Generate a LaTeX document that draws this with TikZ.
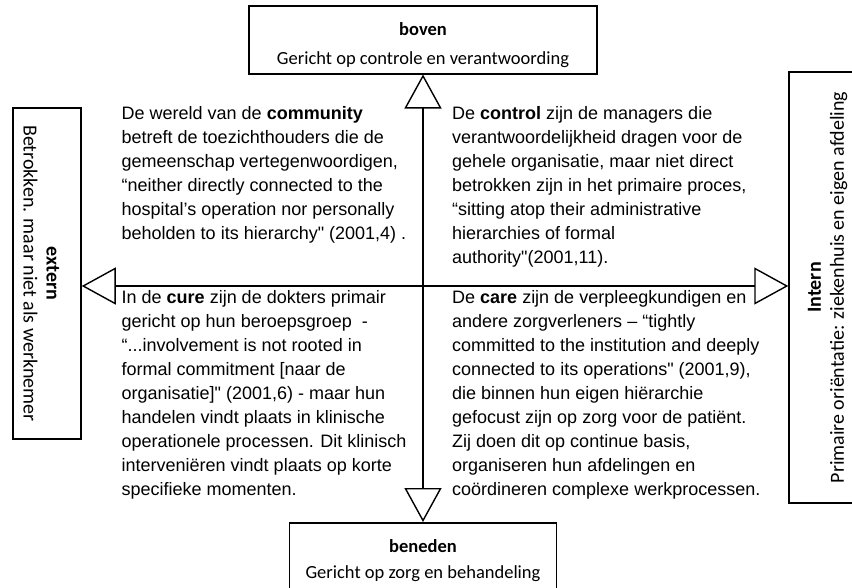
\documentclass[tikz,border=0pt]{standalone}
\usepackage{fontspec}
\setmainfont{Liberation Sans}
\newfontfamily\boxfont{Carlito}
\usetikzlibrary{arrows.meta,positioning}
\newcommand\qd{\textquotedbl}
\tikzset{
  dimbox/.style={rectangle, draw=black, line width=1.5pt, align=center, inner sep=0pt, font=\boxfont\fontsize{18.5}{26}\selectfont},
  sidebox/.style={dimbox, font=\boxfont\fontsize{20}{23}\selectfont},
  quadtext/.style={align=left, inner sep=0pt, anchor=north west, font=\fontsize{18}{24}\selectfont},
  axis/.style={{Triangle[open,length=34pt,width=37pt]}-{Triangle[open,length=34pt,width=37pt]}, line width=1.4pt}
}

\begin{document}
\begin{tikzpicture}[x=1pt, y=-1pt]
  \useasboundingbox (0,0) rectangle (852,587);
  \node[dimbox, minimum width=348pt, minimum height=68pt, anchor=north] (boven) at (423,5) {\rule{0pt}{23pt}\textbf{boven}\\[3pt]Gericht op controle en verantwoording};
  \node[dimbox, minimum width=267pt, minimum height=75pt, anchor=north] (beneden) at (423,522) {\textbf{beneden}\\Gericht op zorg en behandeling};
  \node[sidebox, rotate=-90, minimum width=331pt, minimum height=68pt] (extern) at (47,273.5) {\rule{0pt}{24pt}\textbf{extern}\\Betrokken. maar niet als werknemer};
  \node[sidebox, rotate=90, minimum width=431pt, minimum height=77pt] (intern) at (827.5,287.5) {\textbf{Intern}\\Primaire oriëntatie: ziekenhuis en eigen afdeling};
  \coordinate (hub) at (423,286);

  \node[quadtext] (community) at (121.5,106.5) {De wereld van de \textbf{community}\\betreft de toezichthouders die de\\gemeenschap vertegenwoordigen,\\“neither directly connected to the\\hospital’s operation nor personally\\beholden to its hierarchy\qd{} (2001,4) .};
  \node[quadtext] (control) at (452,106.5) {De \textbf{control} zijn de managers die\\verantwoordelijkheid dragen voor de\\gehele organisatie, maar niet direct\\betrokken zijn in het primaire proces,\\“sitting atop their administrative\\hierarchies of formal\\authority\qd(2001,11).};
  \node[quadtext] (cure) at (121.5,290.5) {In de \textbf{cure} zijn de dokters primair\\gericht op hun beroepsgroep\ \ -\\“...involvement is not rooted in\\formal commitment [naar de\\organisatie]\qd{} (2001,6) - maar hun\\handelen vindt plaats in klinische\\operationele processen. Dit klinisch\\interveniëren vindt plaats op korte\\specifieke momenten.};
  \node[quadtext] (care) at (452,290.5) {De \textbf{care} zijn de verpleegkundigen en\\andere zorgverleners – “tightly\\committed to the institution and deeply\\connected to its operations\qd{} (2001,9),\\die binnen hun eigen hiërarchie\\gefocust zijn op zorg voor de patiënt.\\Zij doen dit op continue basis,\\organiseren hun afdelingen en\\coördineren complexe werkprocessen.};

  \draw[axis] (boven.south) -- (beneden.north);
  \draw[axis] (extern.north |- hub) -- (intern.north |- hub);
\end{tikzpicture}
\end{document}
